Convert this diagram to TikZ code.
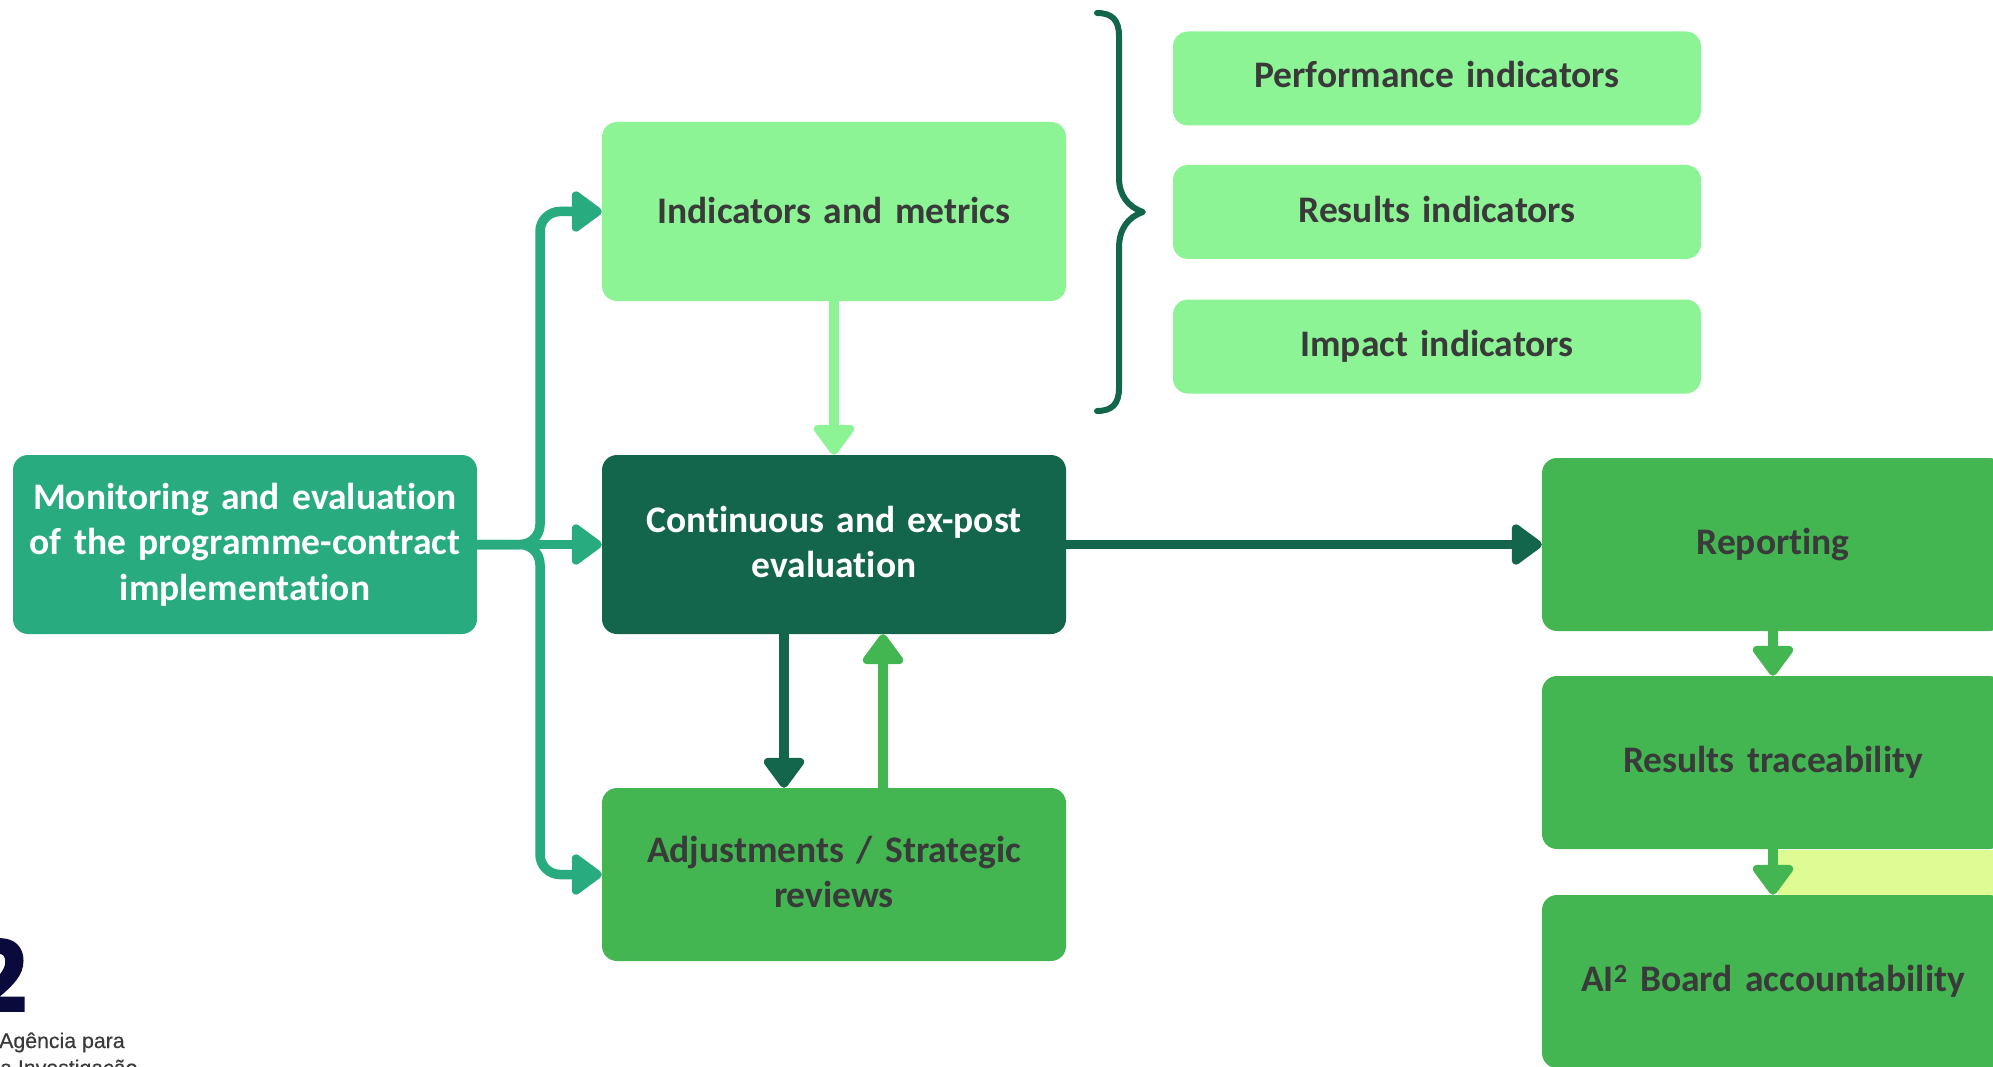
\documentclass[tikz,border=0pt]{standalone}
\usepackage{fontspec}
\setmainfont[Ligatures=NoCommon]{Carlito}
\newfontfamily\logofont[FakeBold=1.5]{Poppins}
\newfontfamily\logotext[FakeBold=0.4]{Liberation Sans}
\usetikzlibrary{arrows.meta}
\usepackage{xcolor}
\definecolor{tealgreen}{HTML}{28AB7E}
\definecolor{palegreen}{HTML}{8CF495}
\definecolor{deepgreen}{HTML}{13654B}
\definecolor{midgreen}{HTML}{43B551}
\definecolor{paleyellow}{HTML}{DFFB93}
\definecolor{bodytext}{HTML}{3A3A3A}
\definecolor{logonavy}{HTML}{0A0A3C}

\begin{document}
\begin{tikzpicture}[x=1pt,y=-1pt,
		main/.style = {rounded corners=15pt, inner sep=0pt, align=center, text=bodytext, font=\fontsize{37.5}{45.5}\selectfont\bfseries},
		big/.style = {main, text width=464pt, minimum height=179pt},
		side/.style = {main, fill=palegreen, text width=528pt, minimum height=94pt},
		right/.style = {main, fill=midgreen, text width=462pt, minimum height=173pt},
		link/.style = {line width=9.5pt, -{Triangle[length=33pt,width=46pt,round]}}]
		\path[use as bounding box, clip] (0,0) rectangle (1993,1067);
		\fill[paleyellow] (1778,850) rectangle (1993,896);
		\node[big, fill=deepgreen, text=white, text depth=50.5pt] (evaluation) at (834,544.5) {Continuous and ex-post\\evaluation};
		\node[big, fill=tealgreen, text=white] (monitoring) [left of=evaluation, node distance=589pt] {Monitoring and evaluation\\of the programme-contract\\implementation};
		\node[big, fill=palegreen, text depth=2.5pt] (metrics) [above of=evaluation, node distance=333pt] {Indicators and metrics};
		\node[big, fill=midgreen, minimum height=173pt, text depth=50.5pt] (adjustments) [below of=evaluation, node distance=330pt] {Adjustments / Strategic\\reviews};
		\node[side, text depth=5pt] (results) at (1437,212) {Results indicators};
		\node[side, text depth=7.5pt] (performance) [above of=results, node distance=133.5pt] {Performance indicators};
		\node[side] (impact) [below of=results, node distance=134.5pt] {Impact indicators};
		\node[right] (reporting) [right of=evaluation, node distance=939pt] {Reporting};
		\node[right] (traceability) [below of=reporting, node distance=218pt] {Results traceability};
		\node[right] (accountability) [below of=traceability, node distance=219pt] {AI\textsuperscript{2} Board accountability};
		\coordinate (bus) at (540,544.5);
		\draw[link, tealgreen, rounded corners=20pt] (monitoring.east) -- (bus) |- (metrics.west);
		\draw[link, tealgreen, rounded corners=20pt] (monitoring.east) -- (bus) |- (adjustments.west);
		\draw[link, tealgreen] (monitoring.east) -- (evaluation.west);
		\draw[link, palegreen] (metrics.south) -- (evaluation.north);
		\draw[link, deepgreen] ([xshift=-50pt]evaluation.south) -- ([xshift=-50pt]adjustments.north);
		\draw[link, midgreen] ([xshift=49pt]adjustments.north) -- ([xshift=49pt]evaluation.south);
		\draw[link, deepgreen] (evaluation.east) -- (reporting.west);
		\draw[link, midgreen] (reporting.south) -- (traceability.north);
		\draw[link, midgreen] (traceability.south) -- (accountability.north);
		\draw[deepgreen, line width=6pt, line cap=round, line join=round] (1097,13) .. controls (1112,13) and (1119,20) .. (1119,36) -- (1119,178) .. controls (1119,195) and (1128,207) .. (1143,212) .. controls (1128,217) and (1119,229) .. (1119,248) -- (1119,388) .. controls (1119,404) and (1112,411) .. (1097,411);
		\node[anchor=base east, inner sep=0pt, text=logonavy, font=\logofont\fontsize{98}{98}\selectfont\bfseries] (logotwo) at (27,1012) {2};
		\node[anchor=base west, inner sep=0pt, text=bodytext, font=\logotext\fontsize{21.3}{22}\selectfont] (logoupper) at (-1,1048) {Agência para};
		\node[anchor=base west, inner sep=0pt, text=bodytext, font=\logotext\fontsize{21.3}{22}\selectfont] (logolower) at (0,1075) {a Investigação};
	\end{tikzpicture}
\end{document}
